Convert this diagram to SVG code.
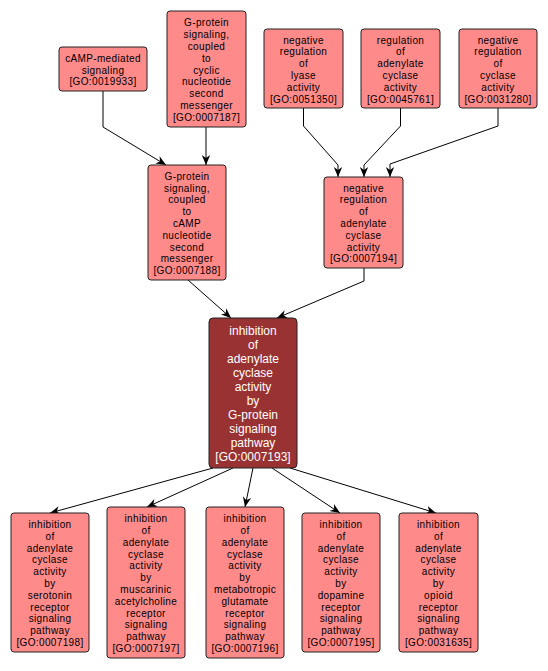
<svg xmlns="http://www.w3.org/2000/svg" width="548" height="671" viewBox="0 0 548 671">
<defs>
<style>
.n rect{fill:#ff8a8a;stroke:#222;stroke-width:1}
.n text{font-family:"Liberation Sans",Arial,sans-serif;font-size:10px;letter-spacing:0.35px;fill:#000;text-anchor:middle}
.m rect{fill:#993232;stroke:#222;stroke-width:1}
.m text{font-family:"Liberation Sans",Arial,sans-serif;font-size:12px;fill:#fff;text-anchor:middle}
.e{fill:none;stroke:#000;stroke-width:1;marker-end:url(#ah)}
</style>
<marker id="ah" viewBox="0 0 10 10" refX="10" refY="5" markerWidth="10" markerHeight="10" markerUnits="userSpaceOnUse" orient="auto">
<path d="M0,0.8 L10,5 L0,9.2 L3,5 z" fill="#000"/>
</marker>
</defs>
<rect width="548" height="671" fill="#fff"/>
<g id="edges">
<polyline class="e" points="103,91 103,127 166,165"/>
<polyline class="e" points="206,127 206,165"/>
<polyline class="e" points="303.5,108 303.5,126 338,165 338,177"/>
<polyline class="e" points="400.5,108 400.5,126 364,165 364,177"/>
<polyline class="e" points="498,108 498,126 390,164 390,177"/>
<polyline class="e" points="188,280 231,318"/>
<polyline class="e" points="364,268 364,281 277,318"/>
<polyline class="e" points="213,468 50,513"/>
<polyline class="e" points="233,468 147,507"/>
<polyline class="e" points="253,468 245,507"/>
<polyline class="e" points="272,468 340,513"/>
<polyline class="e" points="290,468 436,513"/>
</g>
<g id="GO0019933" class="n">
<rect x="59" y="47" width="88" height="44" rx="3"/>
<text x="103" y="61.7">cAMP-mediated</text>
<text x="103" y="73.5">signaling</text>
<text x="103" y="85.3">[GO:0019933]</text>
</g>
<g id="GO0007187" class="n">
<rect x="167" y="11" width="79" height="116" rx="3"/>
<text x="206.5" y="26.3">G-protein</text>
<text x="206.5" y="38.1">signaling,</text>
<text x="206.5" y="49.9">coupled</text>
<text x="206.5" y="61.7">to</text>
<text x="206.5" y="73.5">cyclic</text>
<text x="206.5" y="85.3">nucleotide</text>
<text x="206.5" y="97.1">second</text>
<text x="206.5" y="108.9">messenger</text>
<text x="206.5" y="120.7">[GO:0007187]</text>
</g>
<g id="GO0051350" class="n">
<rect x="264" y="29" width="79" height="79" rx="3"/>
<text x="303.5" y="43.5">negative</text>
<text x="303.5" y="55.3">regulation</text>
<text x="303.5" y="67.1">of</text>
<text x="303.5" y="78.9">lyase</text>
<text x="303.5" y="90.7">activity</text>
<text x="303.5" y="102.5">[GO:0051350]</text>
</g>
<g id="GO0045761" class="n">
<rect x="361" y="29" width="79" height="79" rx="3"/>
<text x="400.5" y="43.5">regulation</text>
<text x="400.5" y="55.3">of</text>
<text x="400.5" y="67.1">adenylate</text>
<text x="400.5" y="78.9">cyclase</text>
<text x="400.5" y="90.7">activity</text>
<text x="400.5" y="102.5">[GO:0045761]</text>
</g>
<g id="GO0031280" class="n">
<rect x="459" y="29" width="78" height="79" rx="3"/>
<text x="498" y="43.5">negative</text>
<text x="498" y="55.3">regulation</text>
<text x="498" y="67.1">of</text>
<text x="498" y="78.9">cyclase</text>
<text x="498" y="90.7">activity</text>
<text x="498" y="102.5">[GO:0031280]</text>
</g>
<g id="GO0007188" class="n">
<rect x="148" y="165" width="78" height="115" rx="3"/>
<text x="187" y="179.8">G-protein</text>
<text x="187" y="191.6">signaling,</text>
<text x="187" y="203.4">coupled</text>
<text x="187" y="215.2">to</text>
<text x="187" y="227">cAMP</text>
<text x="187" y="238.8">nucleotide</text>
<text x="187" y="250.6">second</text>
<text x="187" y="262.4">messenger</text>
<text x="187" y="274.2">[GO:0007188]</text>
</g>
<g id="GO0007194" class="n">
<rect x="324" y="177" width="79" height="91" rx="3"/>
<text x="363.5" y="191.6">negative</text>
<text x="363.5" y="203.4">regulation</text>
<text x="363.5" y="215.2">of</text>
<text x="363.5" y="227">adenylate</text>
<text x="363.5" y="238.8">cyclase</text>
<text x="363.5" y="250.6">activity</text>
<text x="363.5" y="262.4">[GO:0007194]</text>
</g>
<g id="GO0007193" class="m">
<rect x="209" y="318" width="88" height="150" rx="4"/>
<text x="253" y="335.3">inhibition</text>
<text x="253" y="349.3">of</text>
<text x="253" y="363.3">adenylate</text>
<text x="253" y="377.3">cyclase</text>
<text x="253" y="391.3">activity</text>
<text x="253" y="405.3">by</text>
<text x="253" y="419.3">G-protein</text>
<text x="253" y="433.3">signaling</text>
<text x="253" y="447.3">pathway</text>
<text x="253" y="461.3">[GO:0007193]</text>
</g>
<g id="GO0007198" class="n">
<rect x="11" y="513" width="78" height="139" rx="3"/>
<text x="50" y="528">inhibition</text>
<text x="50" y="539.8">of</text>
<text x="50" y="551.6">adenylate</text>
<text x="50" y="563.4">cyclase</text>
<text x="50" y="575.2">activity</text>
<text x="50" y="587">by</text>
<text x="50" y="598.8">serotonin</text>
<text x="50" y="610.6">receptor</text>
<text x="50" y="622.4">signaling</text>
<text x="50" y="634.2">pathway</text>
<text x="50" y="646">[GO:0007198]</text>
</g>
<g id="GO0007197" class="n">
<rect x="107" y="507" width="78" height="151" rx="3"/>
<text x="146" y="522.1">inhibition</text>
<text x="146" y="533.9">of</text>
<text x="146" y="545.7">adenylate</text>
<text x="146" y="557.5">cyclase</text>
<text x="146" y="569.3">activity</text>
<text x="146" y="581.1">by</text>
<text x="146" y="592.9">muscarinic</text>
<text x="146" y="604.7">acetylcholine</text>
<text x="146" y="616.5">receptor</text>
<text x="146" y="628.3">signaling</text>
<text x="146" y="640.1">pathway</text>
<text x="146" y="651.9">[GO:0007197]</text>
</g>
<g id="GO0007196" class="n">
<rect x="206" y="507" width="78" height="151" rx="3"/>
<text x="245" y="522.1">inhibition</text>
<text x="245" y="533.9">of</text>
<text x="245" y="545.7">adenylate</text>
<text x="245" y="557.5">cyclase</text>
<text x="245" y="569.3">activity</text>
<text x="245" y="581.1">by</text>
<text x="245" y="592.9">metabotropic</text>
<text x="245" y="604.7">glutamate</text>
<text x="245" y="616.5">receptor</text>
<text x="245" y="628.3">signaling</text>
<text x="245" y="640.1">pathway</text>
<text x="245" y="651.9">[GO:0007196]</text>
</g>
<g id="GO0007195" class="n">
<rect x="302" y="513" width="78" height="139" rx="3"/>
<text x="341" y="528">inhibition</text>
<text x="341" y="539.8">of</text>
<text x="341" y="551.6">adenylate</text>
<text x="341" y="563.4">cyclase</text>
<text x="341" y="575.2">activity</text>
<text x="341" y="587">by</text>
<text x="341" y="598.8">dopamine</text>
<text x="341" y="610.6">receptor</text>
<text x="341" y="622.4">signaling</text>
<text x="341" y="634.2">pathway</text>
<text x="341" y="646">[GO:0007195]</text>
</g>
<g id="GO0031635" class="n">
<rect x="399" y="513" width="79" height="139" rx="3"/>
<text x="438.5" y="528">inhibition</text>
<text x="438.5" y="539.8">of</text>
<text x="438.5" y="551.6">adenylate</text>
<text x="438.5" y="563.4">cyclase</text>
<text x="438.5" y="575.2">activity</text>
<text x="438.5" y="587">by</text>
<text x="438.5" y="598.8">opioid</text>
<text x="438.5" y="610.6">receptor</text>
<text x="438.5" y="622.4">signaling</text>
<text x="438.5" y="634.2">pathway</text>
<text x="438.5" y="646">[GO:0031635]</text>
</g>
</svg>
